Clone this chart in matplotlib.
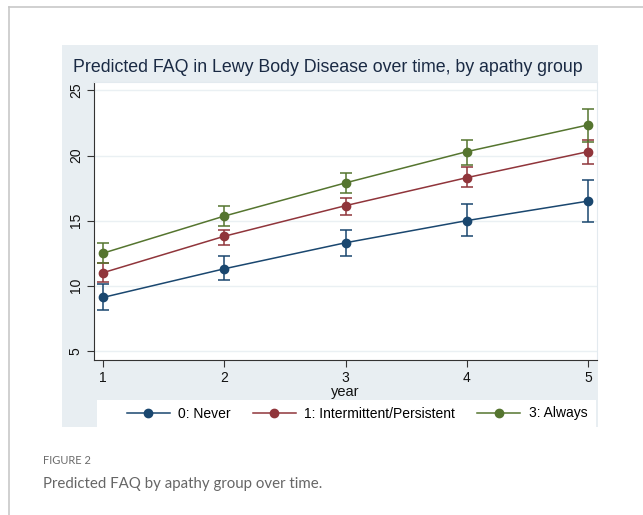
import numpy as np
import matplotlib.pyplot as plt
from matplotlib.patches import Rectangle
from matplotlib.lines import Line2D

plt.rcParams['font.family'] = ['Liberation Sans', 'DejaVu Sans']

# Predicted FAQ by year, with 95% CI bounds
years = [1, 2, 3, 4, 5]
groups = ['0: Never', '1: Intermittent/Persistent', '3: Always']
colors = ['#1a476f', '#90353b', '#55752f']

never = [9.1, 11.3, 13.3, 15.0, 16.5]
never_lo = [8.1, 10.4, 12.3, 13.8, 14.9]
never_hi = [10.15, 12.25, 14.25, 16.25, 18.1]

interm = [11.0, 13.8, 16.15, 18.3, 20.3]
interm_lo = [10.3, 13.1, 15.45, 17.55, 19.35]
interm_hi = [11.75, 14.3, 16.75, 19.1, 21.2]

always = [12.5, 15.35, 17.9, 20.3, 22.35]
always_lo = [11.75, 14.6, 17.1, 19.3, 21.05]
always_hi = [13.3, 16.1, 18.65, 21.2, 23.6]

series = [(never, never_lo, never_hi), (interm, interm_lo, interm_hi), (always, always_lo, always_hi)]

W, H = 643, 515
fig = plt.figure(figsize=(W / 100, H / 100), dpi=100)
fig.patch.set_facecolor('white')


def fx(px):
    return px / W


def fy(py):
    return 1 - py / H


# page border lines
fig.add_artist(Line2D([fx(8.5), fx(8.5)], [fy(7), 0], color='#c8c8c8', lw=1.2))
fig.add_artist(Line2D([fx(8.5), 1], [fy(7), fy(7)], color='#c8c8c8', lw=1.2))

# Stata graph region background
fig.add_artist(Rectangle((fx(62), fy(427)), fx(598) - fx(62), fy(45) - fy(427),
                         facecolor='#e8eef2', edgecolor='none', zorder=0))

ax = fig.add_axes([fx(94), fy(359.5), fx(597) - fx(94), fy(82) - fy(359.5)])
ax.set_facecolor('white')

for (mean, lo, hi), c, lab in zip(series, colors, groups):
    mean = np.array(mean)
    yerr = [mean - np.array(lo), np.array(hi) - mean]
    ax.errorbar(years, mean, yerr=yerr, fmt='none', ecolor=c, elinewidth=1.1,
                capsize=4, capthick=1.1, zorder=3)
    ax.plot(years, mean, color=c, lw=1.1, marker='o', markersize=6,
            label=lab, zorder=4)

ax.set_xlim(0.925, 5.074)
ax.set_ylim(4.33, 25.65)
ax.set_xticks(years)
ax.set_yticks([5, 10, 15, 20, 25])
ax.set_yticklabels(['5', '10', '15', '20', '25'], rotation=90, va='center')
ax.tick_params(axis='both', direction='out', length=5, width=0.8, color='#333333',
               labelsize=10, labelcolor='#111111', pad=3)
ax.grid(axis='y', color='#eaf0f3', lw=1)
ax.set_axisbelow(True)
for s in ['top', 'right']:
    ax.spines[s].set_color('#e3eaef')
for s in ['left', 'bottom']:
    ax.spines[s].set_color('#333333')
    ax.spines[s].set_linewidth(0.8)

ax.set_xlabel('year', fontsize=10.5, labelpad=0, color='#111111')

fig.text(fx(328), fy(68), 'Predicted FAQ in Lewy Body Disease over time, by apathy group',
         ha='center', va='center', fontsize=12.8, color='#1a2a44')

# legend box
fig.add_artist(Rectangle((fx(97), fy(427)), fx(596) - fx(97), fy(400) - fy(427),
                         facecolor='white', edgecolor='none', zorder=0.5))
leg = fig.legend(loc='center', ncol=3, bbox_to_anchor=(fx(357), fy(413.5)),
                 frameon=False, fontsize=10, handlelength=3.1, columnspacing=1.6,
                 handletextpad=0.6, borderaxespad=0, borderpad=0.3)

fig.text(fx(43), fy(460), 'FIGURE 2', ha='left', va='center', fontsize=8,
         color='#6b6b6b', family=['Lato', 'DejaVu Sans'])
fig.text(fx(43), fy(484), 'Predicted FAQ by apathy group over time.', ha='left',
         va='center', fontsize=10.8, color='#666666', family=['Lato', 'DejaVu Sans'])

fig.savefig('out.png', dpi=100)
